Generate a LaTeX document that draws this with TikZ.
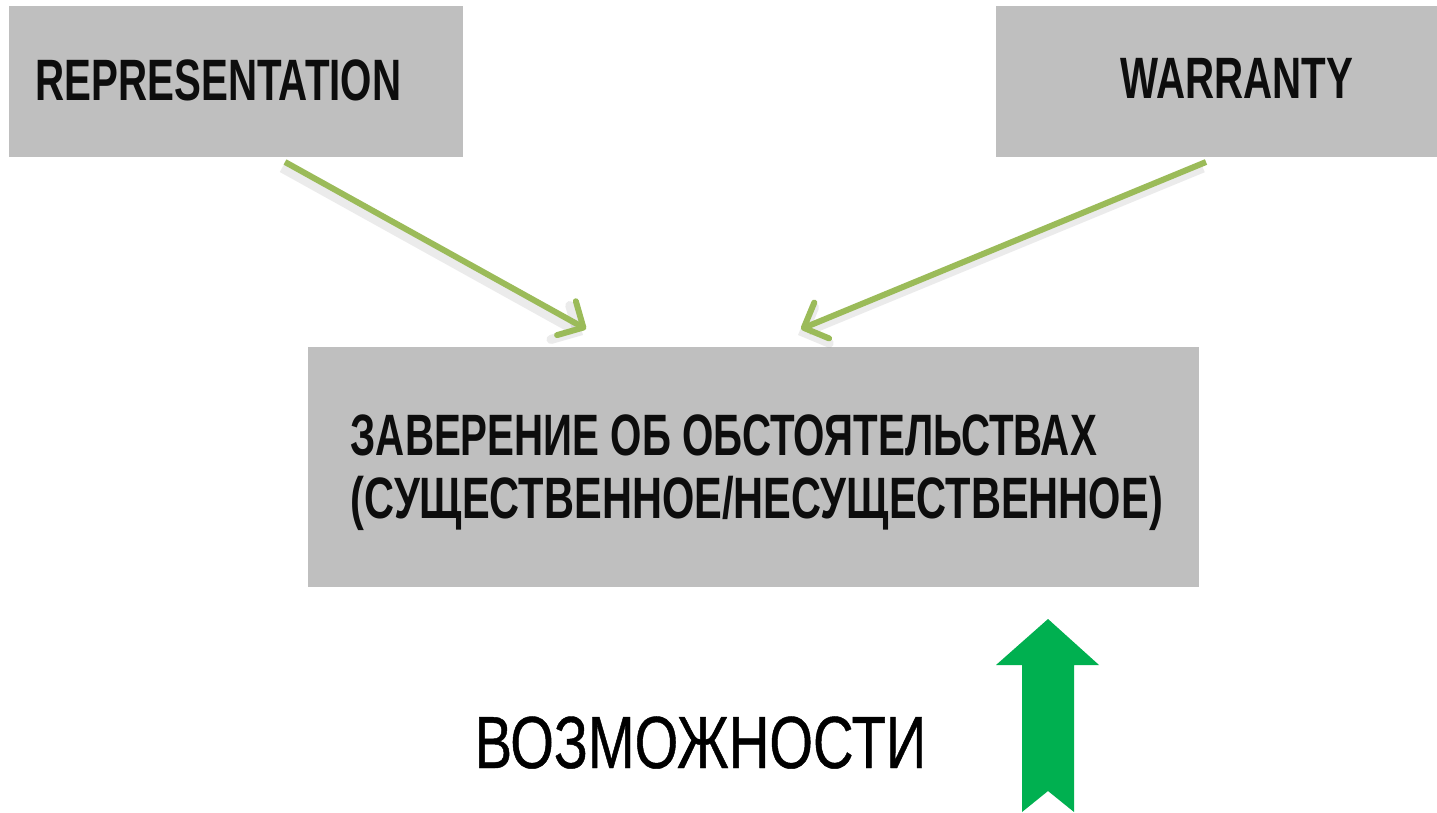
\documentclass[tikz,border=0pt]{standalone}
\usepackage{fontspec}
\setmainfont{Liberation Sans}
\newfontfamily\condbold{Liberation Sans}[FakeStretch=0.69]
\newfontfamily\condboldw{Liberation Sans}[FakeStretch=0.712]
\newfontfamily\condreg{Liberation Sans}[FakeStretch=0.76,FakeBold=0.6]
\usetikzlibrary{arrows.meta}
\definecolor{boxgray}{HTML}{BFBFBF}
\definecolor{linegreen}{HTML}{9BBB59}
\definecolor{blockgreen}{HTML}{00B050}
\begin{document}
\begin{tikzpicture}[x=0.01cm,y=-0.01cm,
  graybox/.style={fill=boxgray,draw=none,inner sep=0pt,outer sep=0pt},
  boldlabel/.style={font=\condbold\bfseries\fontsize{16.6pt}{19pt}\selectfont,inner sep=0pt,anchor=base west,text=black!95},
  greenarrow/.style={draw=linegreen,line width=1.7pt,-{Straight Barb[length=5.5pt,width=11pt,line cap=round,line join=round]}},
  shadowarrow/.style={draw=black,opacity=0.08,line width=2.6pt,-{Straight Barb[length=5.5pt,width=11pt,line cap=round]}}]
\useasboundingbox (0,0) rectangle (1437,812);
\fill[white] (0,0) rectangle (1437,812);
% boxes
\node[graybox,minimum width=4.54cm,minimum height=1.51cm] (repbox) at (236,81.5) {};
\node[graybox,minimum width=4.41cm,minimum height=1.51cm] (warbox) at (1216.5,81.5) {};
\node[graybox,minimum width=8.91cm,minimum height=2.40cm] (mainbox) at (753.5,467) {};
% labels
\node[boldlabel] (replabel) at (35,100) {REPRESENTATION};
\node[boldlabel] (warlabel) at (1120,98) {WARRANTY};
\node[boldlabel] (mainl1) at (350,455) {ЗАВЕРЕНИЕ ОБ ОБСТОЯТЕЛЬСТВАХ};
\node[boldlabel,font=\condboldw\bfseries\fontsize{16.6pt}{19pt}\selectfont] (mainl2) at (350,518) {(СУЩЕСТВЕННОЕ/НЕСУЩЕСТВЕННОЕ)};
\node[font=\condreg\fontsize{21pt}{25pt}\selectfont,inner sep=0pt,anchor=base west] (vozm) at (474,768) {ВОЗМОЖНОСТИ};
% connectors
\coordinate (s1) at (285,162);
\coordinate (e1) at (586,329);
\coordinate (s2) at (1206,162);
\coordinate (e2) at (801,329);
\coordinate (s1s) at (282,168);
\coordinate (e1s) at (583,335);
\coordinate (s2s) at (1203,168);
\coordinate (e2s) at (798,335);
\draw[shadowarrow] (s1s) -- (e1s);
\draw[shadowarrow] (s2s) -- (e2s);
\draw[greenarrow] (s1) -- (e1);
\draw[greenarrow] (s2) -- (e2);
% block arrow
\fill[blockgreen] (1048,619) -- (1099,665) -- (1074,665) -- (1074,812) -- (1048,791) -- (1022,812) -- (1022,665) -- (996,665) -- cycle;
\end{tikzpicture}
\end{document}
